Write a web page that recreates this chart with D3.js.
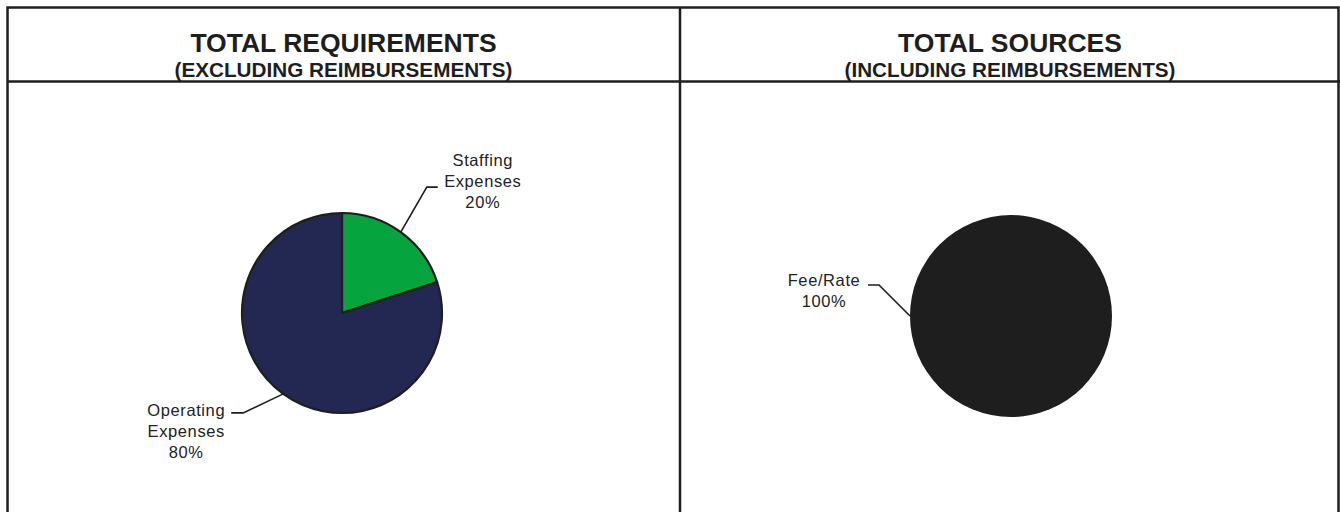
<!DOCTYPE html>
<html>
<head>
<meta charset="utf-8">
<script src="https://cdn.jsdelivr.net/npm/d3@7"></script>
<style>
  body { margin: 0; background: #fff; }
  svg { display: block; font-family: "Liberation Sans", Arial, sans-serif; }
</style>
</head>
<body>
<div id="container"></div>
<script>
// chart data
const reqTitle = ["TOTAL REQUIREMENTS", "(EXCLUDING REIMBURSEMENTS)"];
const reqCategories = [["Staffing", "Expenses"], ["Operating", "Expenses"]];
const reqValues = [20, 80];
const reqColors = ["#05a43f", "#232852"];

const srcTitle = ["TOTAL SOURCES", "(INCLUDING REIMBURSEMENTS)"];
const srcCategories = [["Fee/Rate"]];
const srcValues = [100];
const srcColors = ["#1e1e1e"];

const width = 1340, height = 512;
const ink = "#1e1e1e";

const svg = d3.select("#container").append("svg")
  .attr("width", width)
  .attr("height", height);

// frame
const frame = svg.append("g").attr("fill", "none").attr("stroke", ink).attr("stroke-width", 2.5);
frame.append("rect").attr("x", 7.5).attr("y", 7.5).attr("width", 1331).attr("height", 540);
frame.append("line").attr("x1", 680).attr("x2", 680).attr("y1", 7).attr("y2", height);
frame.append("line").attr("x1", 7).attr("x2", 1340).attr("y1", 81.5).attr("y2", 81.5);

// label placement: angle on the rim, elbow offset from rim, tail length, text centre offset from tail end
const panels = [
  {
    title: reqTitle, cats: reqCategories, values: reqValues, colors: reqColors,
    cx: 342, cy: 313, r: 100, titleX: 343.5,
    labels: [
      { elbow: [26, -45], tail: 11, text: [45, -27] },
      { elbow: [-40, 19], tail: -12, text: [-45, -3] }
    ]
  },
  {
    title: srcTitle, cats: srcCategories, values: srcValues, colors: srcColors,
    cx: 1011, cy: 316, r: 101, titleX: 1010,
    labels: [
      { angle: 1.5 * Math.PI, elbow: [-31, -31], tail: -11, text: [-44, -5] }
    ]
  }
];

const pie = d3.pie().sort(null).startAngle(0).endAngle(2 * Math.PI);

panels.forEach((p) => {
  svg.append("text")
    .attr("x", p.titleX).attr("y", 52)
    .attr("text-anchor", "middle")
    .attr("font-weight", "bold").attr("font-size", 26.5)
    .attr("fill", ink)
    .text(p.title[0]);
  svg.append("text")
    .attr("x", p.titleX).attr("y", 77)
    .attr("text-anchor", "middle")
    .attr("font-weight", "bold").attr("font-size", 20.7)
    .attr("fill", ink)
    .text(p.title[1]);

  const total = d3.sum(p.values);
  const arcs = pie(p.values);
  const arc = d3.arc().innerRadius(0).outerRadius(p.r);
  const g = svg.append("g").attr("transform", `translate(${p.cx},${p.cy})`);

  g.selectAll("path")
    .data(arcs)
    .enter()
    .append("path")
    .attr("d", arc)
    .attr("fill", (d, i) => p.colors[i])
    .attr("stroke", ink)
    .attr("stroke-width", arcs.length > 1 ? 2.2 : 0)
    .attr("stroke-linejoin", "round");

  arcs.forEach((d, i) => {
    const lab = p.labels[i];
    const a = lab.angle != null ? lab.angle : (d.startAngle + d.endAngle) / 2;
    const sx = p.r * Math.sin(a), sy = -p.r * Math.cos(a);
    const ex = sx + lab.elbow[0], ey = sy + lab.elbow[1];
    const tx = ex + lab.tail;
    g.append("polyline")
      .attr("points", [[sx, sy], [ex, ey], [tx, ey]].map((q) => q.join(",")).join(" "))
      .attr("fill", "none")
      .attr("stroke", ink)
      .attr("stroke-width", 1.6);

    const lines = p.cats[i].concat([Math.round((d.value / total) * 100) + "%"]);
    const t = g.append("text")
      .attr("text-anchor", "middle")
      .attr("font-size", 16.5)
      .attr("letter-spacing", 0.6)
      .attr("fill", "#222");
    lines.forEach((s, j) => {
      t.append("tspan")
        .attr("x", tx + lab.text[0])
        .attr("y", ey + lab.text[1] + 6 + j * 20.8)
        .text(s);
    });
  });
});
</script>
</body>
</html>
